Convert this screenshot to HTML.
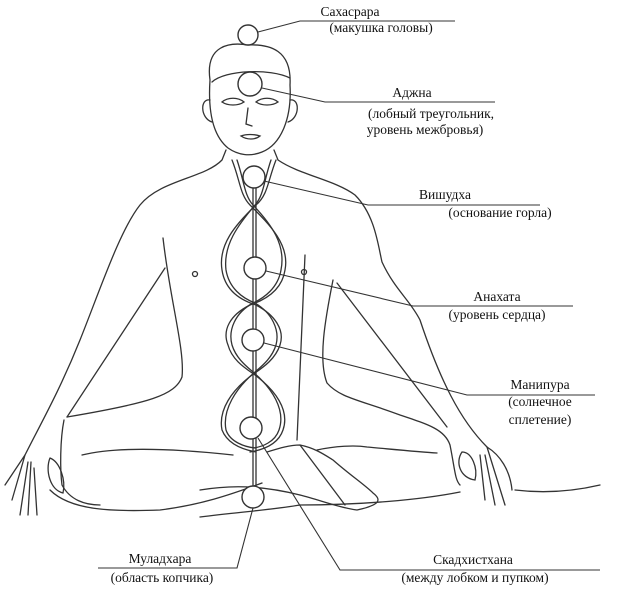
<!DOCTYPE html>
<html><head><meta charset="utf-8"><style>
body{margin:0;background:#fff}
svg{display:block}
text{font-family:"Liberation Serif",serif;font-size:13.5px;fill:#111;text-anchor:middle}
</style></head><body>
<svg width="617" height="602" viewBox="0 0 617 602" xmlns="http://www.w3.org/2000/svg">
<g fill="none" stroke="#333" stroke-width="1.3" stroke-linecap="round">
<!-- head -->
<path d="M210,80 C205,45 230,42 248,45 C270,44 292,50 290,85 C292,120 280,145 262,152 C250,157 238,155 228,148 C212,135 208,110 210,80 Z"/>
<path d="M212,82 C225,70 270,68 290,78"/>
<path d="M210,100 C200,98 200,118 212,122"/>
<path d="M290,100 C300,98 300,118 288,122"/>
<path d="M222,102 C228,97 238,97 244,102 C238,106 228,106 222,102 Z"/>
<path d="M256,102 C262,97 272,97 278,102 C272,106 262,106 256,102 Z"/>
<path d="M248,108 L246,124 L252,126"/>
<path d="M241,136 C247,140 255,140 260,136 C254,134 246,134 241,136 Z"/>
<!-- left side -->
<path d="M226,150 L222,160 C205,178 160,180 140,205 C120,230 100,290 80,340 C60,390 40,425 25,455"/>
<path d="M25,455 L5,485 M25,455 L12,500 M28,462 L20,515 M31,462 L28,515 M34,468 L37,515"/>
<path d="M50,458 C45,470 50,490 63,493 C66,480 60,462 50,458"/>
<path d="M64,420 C60,440 60,470 62,485 C70,500 85,505 100,505"/>
<path d="M163,238 C170,300 185,350 182,377 C175,395 150,403 67,417"/>
<path d="M165,268 L67,417"/>
<!-- right side -->
<path d="M274,150 L278,160 C300,175 335,180 355,195 C375,215 378,245 382,262 C395,290 410,300 420,320 C440,380 460,420 487,447"/>
<path d="M333,280 C325,320 318,360 327,383 C340,398 360,400 400,415 C430,425 445,430 450,445 C455,470 455,480 460,485"/>
<path d="M337,283 L447,427"/>
<path d="M487,447 C500,455 510,470 512,490 M487,447 L505,505 M485,455 L495,505 M480,455 L485,500"/>
<path d="M462,452 C455,462 460,478 475,480 C478,468 472,452 462,452"/>
<!-- torso right -->
<path d="M305,255 C302,320 300,380 297,440"/>
<!-- nipples -->
<circle cx="195" cy="274" r="2.5"/><circle cx="304" cy="272" r="2.5"/>
<!-- legs -->
<path d="M82,455 C110,448 160,447 233,455"/>
<path d="M317,450 C335,446 355,445 367,447 C400,450 420,452 437,453"/>
<path d="M267,452 C280,448 290,445 300,445 C315,448 325,455 333,460 C350,475 365,485 373,493 C382,500 380,505 357,510 C340,508 320,500 300,495"/>
<path d="M200,490 C230,485 260,485 300,495"/>
<path d="M50,490 C70,510 110,512 160,510 C200,505 230,495 262,483"/>
<path d="M200,517 C240,512 270,510 300,505 C360,505 420,500 460,492"/>
<path d="M515,490 C540,493 570,492 600,485"/>
<path d="M300,445 L345,505"/>
<!-- spine -->
<path d="M253,187 L253,490"/>
<path d="M256,187 L256,490"/>
<path d="M232,160 C240,180 240,195 250,205 C270,225 290,245 285,270 C282,290 265,300 250,305 C230,315 222,330 228,345 C232,360 245,368 255,375 C275,390 290,410 283,430 C278,445 262,450 250,452"/>
<path d="M276,160 C268,180 268,195 256,205 C235,225 218,245 222,270 C225,290 240,300 256,305 C275,315 285,330 280,345 C275,360 262,368 252,375 C232,390 218,410 222,430 C228,445 245,450 256,452"/>
<path d="M237,160 C244,180 244,195 253,205 C272,225 286,245 281,270 C278,288 264,298 253,303 C235,313 228,330 232,345 C236,358 246,366 253,372 C272,388 286,410 279,430 C275,442 262,447 253,448"/>
<path d="M271,160 C264,180 264,195 255,205 C238,225 223,245 226,270 C229,288 242,298 255,303 C272,313 280,330 276,345 C272,358 262,366 255,372 C236,388 222,410 226,430 C230,442 245,447 255,448"/>
</g>
<g fill="#fff" stroke="#333" stroke-width="1.4">
<circle cx="248" cy="35" r="10"/>
<circle cx="250" cy="84" r="12"/>
<circle cx="254" cy="177" r="11"/>
<circle cx="255" cy="268" r="11"/>
<circle cx="253" cy="340" r="11"/>
<circle cx="251" cy="428" r="11"/>
<circle cx="253" cy="497" r="11"/>
</g>
<g fill="none" stroke="#333" stroke-width="1.1">
<path d="M258,32 L300,21 L455,21"/>
<path d="M262,88 L325,102 L495,102"/>
<path d="M264,181 L368,205 L540,205"/>
<path d="M266,271 L413,306 L573,306"/>
<path d="M264,343 L467,395 L595,395"/>
<path d="M258,438 L340,570 L600,570"/>
<path d="M253,508 L237,568 L98,568"/>
</g>
<text x="350" y="16">Сахасрара</text>
<text x="381" y="32">(макушка головы)</text>
<text x="412" y="97">Аджна</text>
<text x="431" y="118">(лобный треугольник,</text>
<text x="425" y="134">уровень межбровья)</text>
<text x="445" y="199">Вишудха</text>
<text x="500" y="217">(основание горла)</text>
<text x="497" y="301">Анахата</text>
<text x="497" y="319">(уровень сердца)</text>
<text x="540" y="389">Манипура</text>
<text x="540" y="406">(солнечное</text>
<text x="540" y="424">сплетение)</text>
<text x="473" y="564">Скадхистхана</text>
<text x="475" y="582">(между лобком и пупком)</text>
<text x="160" y="563">Муладхара</text>
<text x="162" y="582">(область копчика)</text>
</svg>
</body></html>
